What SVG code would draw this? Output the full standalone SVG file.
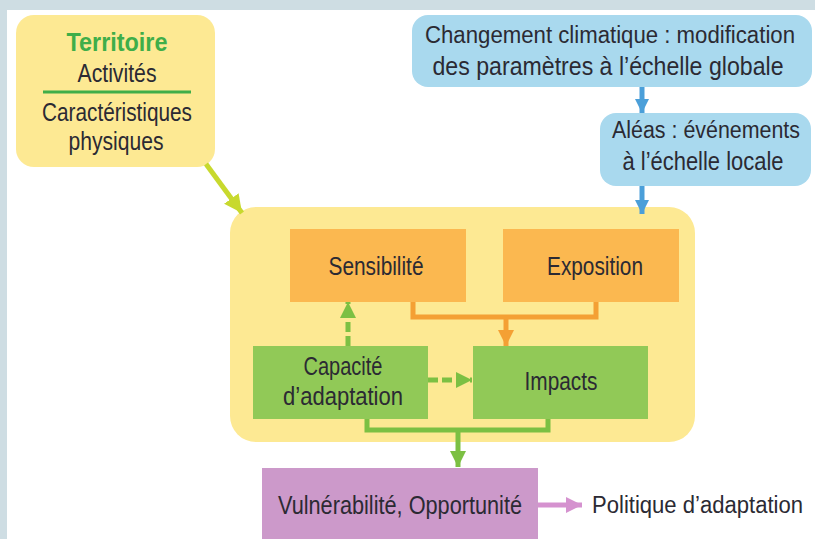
<svg xmlns="http://www.w3.org/2000/svg" width="815" height="539" viewBox="0 0 815 539">
<style>
text{font-family:"Liberation Sans",Arial,sans-serif;font-size:25px;fill:#2b2a33}
.t{font-weight:bold;fill:#3fae49;font-size:26px}
.s{font-size:23px}
.blue{fill:#a9d9ee}
.orange{fill:#fbb850}
.green{fill:#91c957}
.yellow{fill:#fde993}
.purple{fill:#cc99ca}
.c{fill:none;stroke-width:5}
</style>
<defs>
<marker id="ab" viewBox="0 0 10 10" refX="10" refY="5" markerWidth="14" markerHeight="17" markerUnits="userSpaceOnUse" orient="auto"><path d="M0,0L10,5L0,10z" fill="#4b9fd9"/></marker>
<marker id="ao" viewBox="0 0 10 10" refX="10" refY="5" markerWidth="16" markerHeight="19" markerUnits="userSpaceOnUse" orient="auto"><path d="M0,0L10,5L0,10z" fill="#f4a034"/></marker>
<marker id="ag" viewBox="0 0 10 10" refX="10" refY="5" markerWidth="16" markerHeight="20" markerUnits="userSpaceOnUse" orient="auto"><path d="M0,0L10,5L0,10z" fill="#7cc043"/></marker>
<marker id="ay" viewBox="0 0 10 10" refX="10" refY="5" markerWidth="18" markerHeight="19" markerUnits="userSpaceOnUse" orient="auto"><path d="M0,0L10,5L0,10z" fill="#c8d92e"/></marker>
<marker id="ap" viewBox="0 0 10 10" refX="10" refY="5" markerWidth="16" markerHeight="17" markerUnits="userSpaceOnUse" orient="auto"><path d="M0,0L10,5L0,10z" fill="#d592cf"/></marker>
</defs>
<rect width="815" height="539" fill="#ffffff"/>
<rect x="0" y="0" width="815" height="10" fill="#cedde3"/>
<rect x="0" y="0" width="7" height="539" fill="#cedde3"/>

<g id="container"><rect class="yellow" x="230" y="207" width="465" height="235" rx="26"/></g>

<g id="territoire">
<rect class="yellow" x="16" y="15" width="199" height="152" rx="18"/>
<text class="t" x="117" y="51" text-anchor="middle" textLength="101" lengthAdjust="spacingAndGlyphs">Territoire</text>
<text x="117" y="82" text-anchor="middle" textLength="79" lengthAdjust="spacingAndGlyphs">Activités</text>
<line x1="43" y1="92" x2="191" y2="92" stroke="#3fae49" stroke-width="3"/>
<text x="117" y="121" text-anchor="middle" textLength="150" lengthAdjust="spacingAndGlyphs">Caractéristiques</text>
<text x="116" y="150" text-anchor="middle" textLength="95" lengthAdjust="spacingAndGlyphs">physiques</text>
</g>

<g id="changement">
<rect class="blue" x="412" y="15" width="400" height="72" rx="16"/>
<text class="s" x="610" y="43" text-anchor="middle" textLength="370" lengthAdjust="spacingAndGlyphs">Changement climatique : modification</text>
<text x="608" y="75" text-anchor="middle" textLength="351" lengthAdjust="spacingAndGlyphs">des paramètres à l’échelle globale</text>
</g>

<g id="aleas">
<rect class="blue" x="600" y="113" width="211" height="73" rx="16"/>
<text class="s" x="706" y="138" text-anchor="middle" textLength="188" lengthAdjust="spacingAndGlyphs">Aléas : événements</text>
<text x="703" y="170" text-anchor="middle" textLength="161" lengthAdjust="spacingAndGlyphs">à l’échelle locale</text>
</g>

<g id="sensibilite">
<rect class="orange" x="290" y="229" width="176" height="73"/>
<text x="376" y="275" text-anchor="middle" textLength="95" lengthAdjust="spacingAndGlyphs">Sensibilité</text>
</g>
<g id="exposition">
<rect class="orange" x="503" y="229" width="176" height="73"/>
<text x="595" y="275" text-anchor="middle" textLength="96" lengthAdjust="spacingAndGlyphs">Exposition</text>
</g>
<g id="capacite">
<rect class="green" x="253" y="346" width="175" height="73"/>
<text x="343" y="375" text-anchor="middle" textLength="79" lengthAdjust="spacingAndGlyphs">Capacité</text>
<text x="343" y="405" text-anchor="middle" textLength="120" lengthAdjust="spacingAndGlyphs">d’adaptation</text>
</g>
<g id="impacts">
<rect class="green" x="473" y="346" width="175" height="73"/>
<text x="561" y="390" text-anchor="middle" textLength="73" lengthAdjust="spacingAndGlyphs">Impacts</text>
</g>
<g id="vulnerabilite">
<rect class="purple" x="262" y="468" width="276" height="71"/>
<text x="400" y="514" text-anchor="middle" textLength="244" lengthAdjust="spacingAndGlyphs">Vulnérabilité, Opportunité</text>
</g>
<g id="politique">
<text class="s" x="592" y="513" textLength="211" lengthAdjust="spacingAndGlyphs">Politique d’adaptation</text>
</g>

<g id="connectors">
<line class="c" x1="206" y1="164" x2="242" y2="213" stroke="#c8d92e" marker-end="url(#ay)"/>
<line class="c" x1="642" y1="87" x2="642" y2="113" stroke="#4b9fd9" marker-end="url(#ab)"/>
<line class="c" x1="642" y1="186" x2="642" y2="214" stroke="#4b9fd9" marker-end="url(#ab)"/>
<polyline class="c" points="413,302 413,317 596,317 596,302" stroke="#f4a034"/>
<line class="c" x1="506" y1="317" x2="506" y2="346" stroke="#f4a034" marker-end="url(#ao)"/>
<line class="c" x1="348" y1="346" x2="348" y2="302" stroke="#7cc043" stroke-dasharray="10,4" marker-end="url(#ag)"/>
<line class="c" x1="428" y1="380" x2="472" y2="380" stroke="#7cc043" stroke-dasharray="10,4" marker-end="url(#ag)"/>
<polyline class="c" points="367,419 367,430 548,430 548,419" stroke="#7cc043"/>
<line class="c" x1="458" y1="430" x2="458" y2="467" stroke="#7cc043" marker-end="url(#ag)"/>
<line class="c" x1="538" y1="505" x2="582" y2="505" stroke="#d592cf" marker-end="url(#ap)"/>
</g>
</svg>
